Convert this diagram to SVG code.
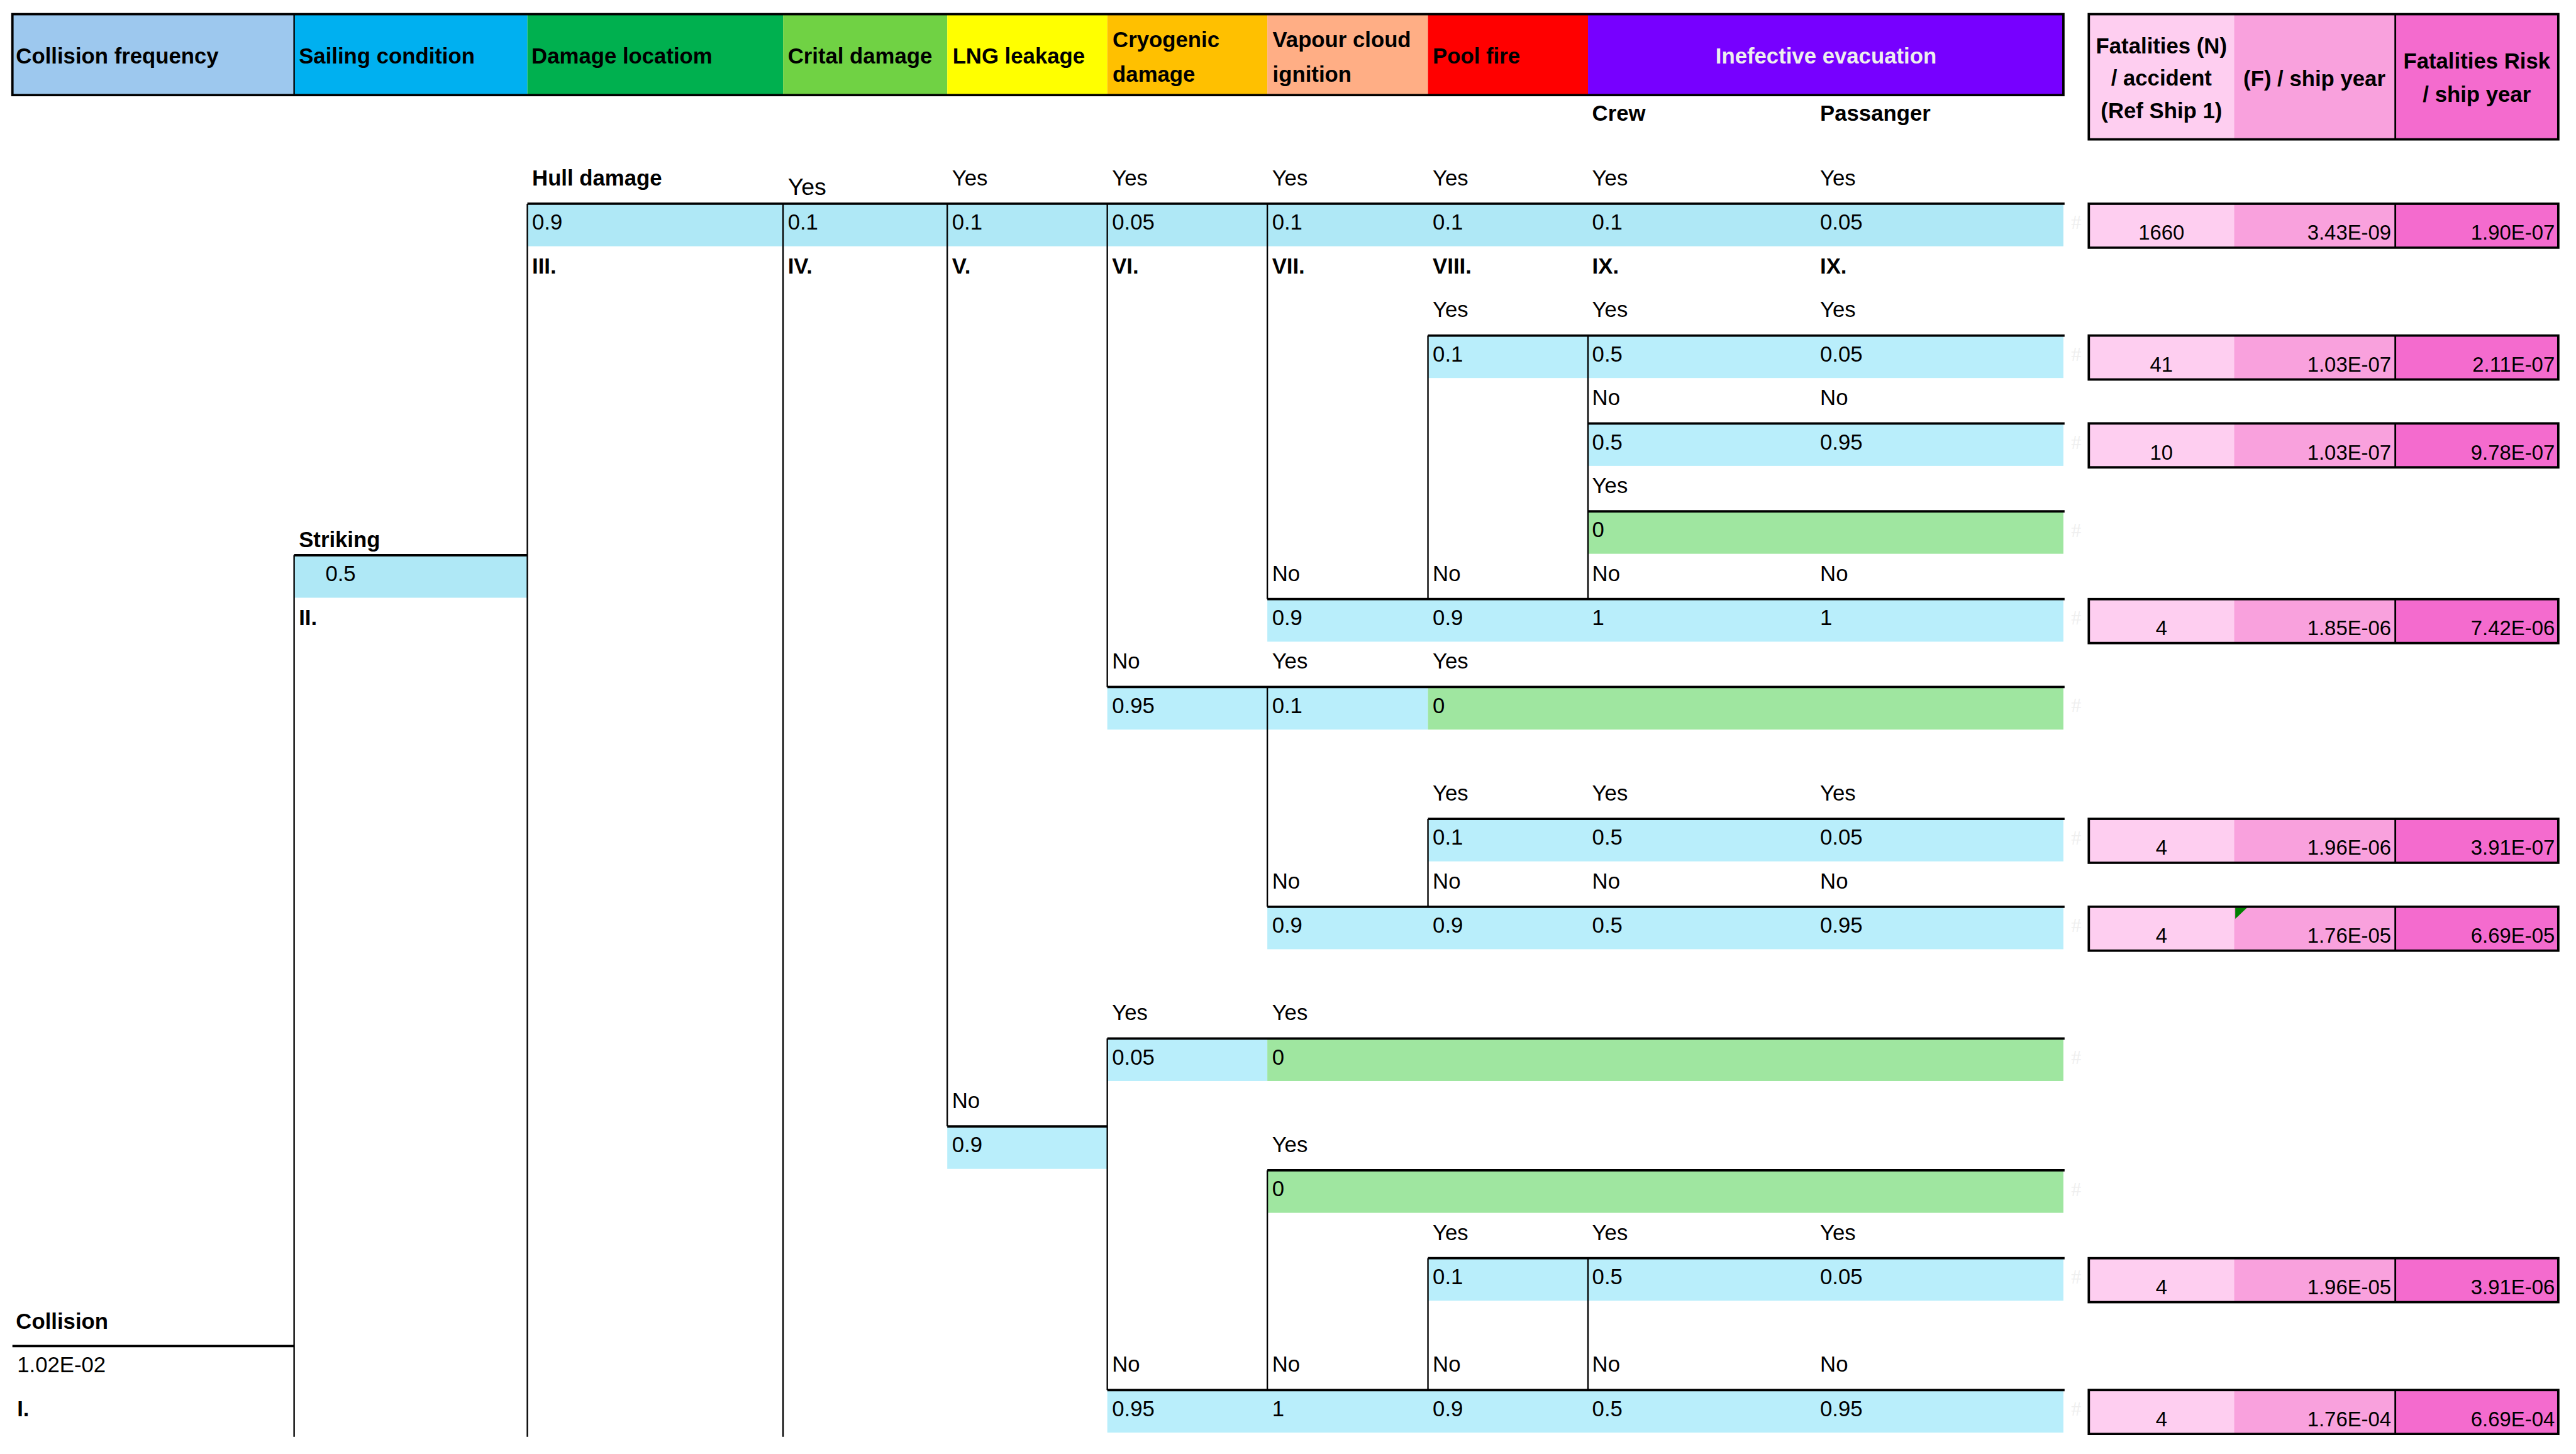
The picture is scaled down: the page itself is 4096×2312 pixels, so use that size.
<svg xmlns="http://www.w3.org/2000/svg" width="4096" height="2312" viewBox="0 0 4096 2312">
<style>
text{font-family:"Liberation Sans",Arial,sans-serif;font-size:37px;fill:#000}
.b{font-weight:bold}
.n{font-size:35px}
.w{fill:#EEEEEE}
.hash{font-family:"Liberation Serif",serif;font-size:34px;fill:#EFEFEF}
.bl{fill:#B9EEFB}
.bl1{fill:#AFE8F6}
.gr{fill:#9FE6A0}
.h{stroke:#000;stroke-width:4;fill:none}
.v{stroke:#000;stroke-width:2.5;fill:none}
.p1{fill:#FECEF0}.p2{fill:#F9A1DD}.p3{fill:#F46BCE}
</style>
<rect width="4096" height="2312" fill="#fff"/>
<g transform="scale(0.93902)">
<g id="header">
<rect x="21" y="24" width="477" height="137" fill="#9DC8EE"/>
<rect x="498" y="24" width="395" height="137" fill="#00B0F0"/>
<rect x="893" y="24" width="433" height="137" fill="#00B04F"/>
<rect x="1326" y="24" width="278" height="137" fill="#70D244"/>
<rect x="1604" y="24" width="271" height="137" fill="#FFFF00"/>
<rect x="1875" y="24" width="271" height="137" fill="#FFC000"/>
<rect x="2146" y="24" width="272" height="137" fill="#FFAE85"/>
<rect x="2418" y="24" width="271" height="137" fill="#FF0000"/>
<rect x="2689" y="24" width="805" height="137" fill="#7700FF"/>
<line class="v" x1="498" y1="24" x2="498" y2="161"/>
<rect class="h" x="21" y="24" width="3473" height="137"/>
<text class="b" x="27" y="108">Collision frequency</text>
<text class="b" x="506" y="108">Sailing condition</text>
<text class="b" x="900" y="108">Damage locatiom</text>
<text class="b" x="1334" y="108">Crital damage</text>
<text class="b" x="1613" y="108">LNG leakage</text>
<text class="b" x="1884" y="80">Cryogenic</text>
<text class="b" x="1884" y="138">damage</text>
<text class="b" x="2155" y="80">Vapour cloud</text>
<text class="b" x="2155" y="138">ignition</text>
<text class="b" x="2426" y="108">Pool fire</text>
<text class="b w" x="3092" y="108" text-anchor="middle">Inefective evacuation</text>
<text class="b" x="2696" y="205">Crew</text>
<text class="b" x="3082" y="205">Passanger</text>
</g>
<g id="result-header">
<rect class="p1" x="3537" y="24" width="246" height="212"/>
<rect class="p2" x="3783" y="24" width="273" height="212"/>
<rect class="p3" x="4056" y="24" width="276" height="212"/>
<line class="v" x1="4056" y1="24" x2="4056" y2="236" style="stroke-width:3"/>
<rect class="h" x="3537" y="24" width="795" height="212"/>
<text class="b" x="3660" y="90" text-anchor="middle">Fatalities (N)</text>
<text class="b" x="3660" y="145" text-anchor="middle">/ accident</text>
<text class="b" x="3660" y="200" text-anchor="middle">(Ref Ship 1)</text>
<text class="b" x="3919" y="146" text-anchor="middle">(F) / ship year</text>
<text class="b" x="4194" y="116" text-anchor="middle">Fatalities Risk</text>
<text class="b" x="4194" y="173" text-anchor="middle">/ ship year</text>
</g>

<g id="fills">
<rect class="bl1" x="893" y="345" width="2601" height="72"/>
<rect class="bl" x="2418" y="568.2" width="1076" height="72"/>
<rect class="bl" x="2689" y="717" width="805" height="72"/>
<rect class="gr" x="2689" y="865.8" width="805" height="72"/>
<rect class="bl1" x="498" y="940.2" width="395" height="72"/>
<rect class="bl" x="2146" y="1014.6" width="1348" height="72"/>
<rect class="bl" x="1875" y="1163.4" width="543" height="72"/>
<rect class="gr" x="2418" y="1163.4" width="1076" height="72"/>
<rect class="bl" x="2418" y="1386.6" width="1076" height="72"/>
<rect class="bl" x="2146" y="1535.4" width="1348" height="72"/>
<rect class="bl" x="1875" y="1758.6" width="271" height="72"/>
<rect class="gr" x="2146" y="1758.6" width="1348" height="72"/>
<rect class="bl" x="1604" y="1907.4" width="271" height="72"/>
<rect class="gr" x="2146" y="1981.8" width="1348" height="72"/>
<rect class="bl" x="2418" y="2130.6" width="1076" height="72"/>
<rect class="bl" x="1875" y="2353.8" width="1619" height="72"/>
</g>

<g id="connectors">
<line class="v" x1="498" y1="940.2" x2="498" y2="2433"/>
<line class="v" x1="893" y1="345" x2="893" y2="2433"/>
<line class="v" x1="1326" y1="345" x2="1326" y2="2433"/>
<line class="v" x1="1604" y1="345" x2="1604" y2="1907.4"/>
<line class="v" x1="1875" y1="345" x2="1875" y2="1163.4"/>
<line class="v" x1="1875" y1="1758.6" x2="1875" y2="2353.8"/>
<line class="v" x1="2146" y1="345" x2="2146" y2="1014.6"/>
<line class="v" x1="2146" y1="1163.4" x2="2146" y2="1535.4"/>
<line class="v" x1="2146" y1="1981.8" x2="2146" y2="2353.8"/>
<line class="v" x1="2418" y1="568.2" x2="2418" y2="1014.6"/>
<line class="v" x1="2418" y1="1386.6" x2="2418" y2="1535.4"/>
<line class="v" x1="2418" y1="2130.6" x2="2418" y2="2353.8"/>
<line class="v" x1="2689" y1="568.2" x2="2689" y2="1014.6"/>
<line class="v" x1="2689" y1="2130.6" x2="2689" y2="2353.8"/>
<line class="h" x1="893" y1="345" x2="3496" y2="345"/>
<line class="h" x1="2418" y1="568.2" x2="3496" y2="568.2"/>
<line class="h" x1="2689" y1="717" x2="3496" y2="717"/>
<line class="h" x1="2689" y1="865.8" x2="3496" y2="865.8"/>
<line class="h" x1="498" y1="940.2" x2="893" y2="940.2"/>
<line class="h" x1="2146" y1="1014.6" x2="3496" y2="1014.6"/>
<line class="h" x1="1875" y1="1163.4" x2="3496" y2="1163.4"/>
<line class="h" x1="2418" y1="1386.6" x2="3496" y2="1386.6"/>
<line class="h" x1="2146" y1="1535.4" x2="3496" y2="1535.4"/>
<line class="h" x1="1875" y1="1758.6" x2="3496" y2="1758.6"/>
<line class="h" x1="1604" y1="1907.4" x2="1875" y2="1907.4"/>
<line class="h" x1="2146" y1="1981.8" x2="3496" y2="1981.8"/>
<line class="h" x1="2418" y1="2130.6" x2="3496" y2="2130.6"/>
<line class="h" x1="21" y1="2279.4" x2="498" y2="2279.4"/>
<line class="h" x1="1875" y1="2353.8" x2="3496" y2="2353.8"/>
</g>

<g id="node-I">
<text class="b" x="27" y="2250">Collision</text>
<text x="29" y="2323.4">1.02E-02</text>
<text class="b" x="29" y="2397.8">I.</text>
</g>
<g id="node-II">
<text class="b" x="506" y="926">Striking</text>
<text x="551" y="984.2">0.5</text>
<text class="b" x="506" y="1058.6">II.</text>
</g>
<g id="branch-k0">
<text class="b" x="901" y="314">Hull damage</text>
<text x="1334" y="330" style="font-size:40px">Yes</text>
<text x="1612" y="314">Yes</text>
<text x="1883" y="314">Yes</text>
<text x="2154" y="314">Yes</text>
<text x="2426" y="314">Yes</text>
<text x="2696" y="314">Yes</text>
<text x="3082" y="314">Yes</text>
<text x="901" y="389">0.9</text>
<text x="1334" y="389">0.1</text>
<text x="1612" y="389">0.1</text>
<text x="1883" y="389">0.05</text>
<text x="2154" y="389">0.1</text>
<text x="2426" y="389">0.1</text>
<text x="2696" y="389">0.1</text>
<text x="3082" y="389">0.05</text>
<text class="b" x="901" y="463.4">III.</text>
<text class="b" x="1334" y="463.4">IV.</text>
<text class="b" x="1612" y="463.4">V.</text>
<text class="b" x="1883" y="463.4">VI.</text>
<text class="b" x="2154" y="463.4">VII.</text>
<text class="b" x="2426" y="463.4">VIII.</text>
<text class="b" x="2696" y="463.4">IX.</text>
<text class="b" x="3082" y="463.4">IX.</text>
</g>
<g id="branch-k3">
<text x="2426" y="537.2">Yes</text>
<text x="2696" y="537.2">Yes</text>
<text x="3082" y="537.2">Yes</text>
<text x="2426" y="612.2">0.1</text>
<text x="2696" y="612.2">0.5</text>
<text x="3082" y="612.2">0.05</text>
</g>
<g id="branch-k5">
<text x="2696" y="686">No</text>
<text x="3082" y="686">No</text>
<text x="2696" y="761">0.5</text>
<text x="3082" y="761">0.95</text>
</g>
<g id="branch-k7">
<text x="2696" y="834.8">Yes</text>
<text x="2696" y="909.8">0</text>
</g>
<g id="branch-k9">
<text x="2154" y="983.6">No</text>
<text x="2426" y="983.6">No</text>
<text x="2696" y="983.6">No</text>
<text x="3082" y="983.6">No</text>
<text x="2154" y="1058.6">0.9</text>
<text x="2426" y="1058.6">0.9</text>
<text x="2696" y="1058.6">1</text>
<text x="3082" y="1058.6">1</text>
</g>
<g id="branch-k11">
<text x="1883" y="1132.4">No</text>
<text x="2154" y="1132.4">Yes</text>
<text x="2426" y="1132.4">Yes</text>
<text x="1883" y="1207.4">0.95</text>
<text x="2154" y="1207.4">0.1</text>
<text x="2426" y="1207.4">0</text>
</g>
<g id="branch-k14">
<text x="2426" y="1355.6">Yes</text>
<text x="2696" y="1355.6">Yes</text>
<text x="3082" y="1355.6">Yes</text>
<text x="2426" y="1430.6">0.1</text>
<text x="2696" y="1430.6">0.5</text>
<text x="3082" y="1430.6">0.05</text>
</g>
<g id="branch-k16">
<text x="2154" y="1504.4">No</text>
<text x="2426" y="1504.4">No</text>
<text x="2696" y="1504.4">No</text>
<text x="3082" y="1504.4">No</text>
<text x="2154" y="1579.4">0.9</text>
<text x="2426" y="1579.4">0.9</text>
<text x="2696" y="1579.4">0.5</text>
<text x="3082" y="1579.4">0.95</text>
</g>
<g id="branch-k19">
<text x="1883" y="1727.6">Yes</text>
<text x="2154" y="1727.6">Yes</text>
<text x="1883" y="1802.6">0.05</text>
<text x="2154" y="1802.6">0</text>
</g>
<g id="branch-k21">
<text x="1612" y="1876.4">No</text>
<text x="1612" y="1951.4">0.9</text>
</g>
<g id="branch-k22">
<text x="2154" y="1950.8">Yes</text>
<text x="2154" y="2025.8">0</text>
</g>
<g id="branch-k24">
<text x="2426" y="2099.6">Yes</text>
<text x="2696" y="2099.6">Yes</text>
<text x="3082" y="2099.6">Yes</text>
<text x="2426" y="2174.6">0.1</text>
<text x="2696" y="2174.6">0.5</text>
<text x="3082" y="2174.6">0.05</text>
</g>
<g id="branch-k27">
<text x="1883" y="2322.8">No</text>
<text x="2154" y="2322.8">No</text>
<text x="2426" y="2322.8">No</text>
<text x="2696" y="2322.8">No</text>
<text x="3082" y="2322.8">No</text>
<text x="1883" y="2397.8">0.95</text>
<text x="2154" y="2397.8">1</text>
<text x="2426" y="2397.8">0.9</text>
<text x="2696" y="2397.8">0.5</text>
<text x="3082" y="2397.8">0.95</text>
</g>

<g id="hashes">
<text class="hash" x="3507" y="388">#</text>
<text class="hash" x="3507" y="611">#</text>
<text class="hash" x="3507" y="760">#</text>
<text class="hash" x="3507" y="909">#</text>
<text class="hash" x="3507" y="1058">#</text>
<text class="hash" x="3507" y="1206">#</text>
<text class="hash" x="3507" y="1430">#</text>
<text class="hash" x="3507" y="1578">#</text>
<text class="hash" x="3507" y="1802">#</text>
<text class="hash" x="3507" y="2025">#</text>
<text class="hash" x="3507" y="2174">#</text>
<text class="hash" x="3507" y="2397">#</text>
</g>

<g id="result-1">
<rect class="p1" x="3537" y="345" width="246" height="74.4"/><rect class="p2" x="3783" y="345" width="273" height="74.4"/><rect class="p3" x="4056" y="345" width="276" height="74.4"/>
<line class="v" x1="4056" y1="345" x2="4056" y2="419.4" style="stroke-width:3"/><rect class="h" x="3537" y="345" width="795" height="74.4"/>
<text class="n" x="3660" y="406" text-anchor="middle">1660</text><text class="n" x="4049" y="406" text-anchor="end">3.43E-09</text><text class="n" x="4326" y="406" text-anchor="end">1.90E-07</text>
</g>
<g id="result-2">
<rect class="p1" x="3537" y="568.2" width="246" height="74.4"/><rect class="p2" x="3783" y="568.2" width="273" height="74.4"/><rect class="p3" x="4056" y="568.2" width="276" height="74.4"/>
<line class="v" x1="4056" y1="568.2" x2="4056" y2="642.6" style="stroke-width:3"/><rect class="h" x="3537" y="568.2" width="795" height="74.4"/>
<text class="n" x="3660" y="629.2" text-anchor="middle">41</text><text class="n" x="4049" y="629.2" text-anchor="end">1.03E-07</text><text class="n" x="4326" y="629.2" text-anchor="end">2.11E-07</text>
</g>
<g id="result-3">
<rect class="p1" x="3537" y="717" width="246" height="74.4"/><rect class="p2" x="3783" y="717" width="273" height="74.4"/><rect class="p3" x="4056" y="717" width="276" height="74.4"/>
<line class="v" x1="4056" y1="717" x2="4056" y2="791.4" style="stroke-width:3"/><rect class="h" x="3537" y="717" width="795" height="74.4"/>
<text class="n" x="3660" y="778" text-anchor="middle">10</text><text class="n" x="4049" y="778" text-anchor="end">1.03E-07</text><text class="n" x="4326" y="778" text-anchor="end">9.78E-07</text>
</g>
<g id="result-4">
<rect class="p1" x="3537" y="1014.6" width="246" height="74.4"/><rect class="p2" x="3783" y="1014.6" width="273" height="74.4"/><rect class="p3" x="4056" y="1014.6" width="276" height="74.4"/>
<line class="v" x1="4056" y1="1014.6" x2="4056" y2="1089" style="stroke-width:3"/><rect class="h" x="3537" y="1014.6" width="795" height="74.4"/>
<text class="n" x="3660" y="1075.6" text-anchor="middle">4</text><text class="n" x="4049" y="1075.6" text-anchor="end">1.85E-06</text><text class="n" x="4326" y="1075.6" text-anchor="end">7.42E-06</text>
</g>
<g id="result-5">
<rect class="p1" x="3537" y="1386.6" width="246" height="74.4"/><rect class="p2" x="3783" y="1386.6" width="273" height="74.4"/><rect class="p3" x="4056" y="1386.6" width="276" height="74.4"/>
<line class="v" x1="4056" y1="1386.6" x2="4056" y2="1461" style="stroke-width:3"/><rect class="h" x="3537" y="1386.6" width="795" height="74.4"/>
<text class="n" x="3660" y="1447.6" text-anchor="middle">4</text><text class="n" x="4049" y="1447.6" text-anchor="end">1.96E-06</text><text class="n" x="4326" y="1447.6" text-anchor="end">3.91E-07</text>
</g>
<g id="result-6">
<rect class="p1" x="3537" y="1535.4" width="246" height="74.4"/><rect class="p2" x="3783" y="1535.4" width="273" height="74.4"/><rect class="p3" x="4056" y="1535.4" width="276" height="74.4"/>
<polygon points="3785,1537 3805,1537 3785,1556" fill="#008000"/>
<line class="v" x1="4056" y1="1535.4" x2="4056" y2="1609.8" style="stroke-width:3"/><rect class="h" x="3537" y="1535.4" width="795" height="74.4"/>
<text class="n" x="3660" y="1596.4" text-anchor="middle">4</text><text class="n" x="4049" y="1596.4" text-anchor="end">1.76E-05</text><text class="n" x="4326" y="1596.4" text-anchor="end">6.69E-05</text>
</g>
<g id="result-7">
<rect class="p1" x="3537" y="2130.6" width="246" height="74.4"/><rect class="p2" x="3783" y="2130.6" width="273" height="74.4"/><rect class="p3" x="4056" y="2130.6" width="276" height="74.4"/>
<line class="v" x1="4056" y1="2130.6" x2="4056" y2="2205" style="stroke-width:3"/><rect class="h" x="3537" y="2130.6" width="795" height="74.4"/>
<text class="n" x="3660" y="2191.6" text-anchor="middle">4</text><text class="n" x="4049" y="2191.6" text-anchor="end">1.96E-05</text><text class="n" x="4326" y="2191.6" text-anchor="end">3.91E-06</text>
</g>
<g id="result-8">
<rect class="p1" x="3537" y="2353.8" width="246" height="74.4"/><rect class="p2" x="3783" y="2353.8" width="273" height="74.4"/><rect class="p3" x="4056" y="2353.8" width="276" height="74.4"/>
<line class="v" x1="4056" y1="2353.8" x2="4056" y2="2428.2" style="stroke-width:3"/><rect class="h" x="3537" y="2353.8" width="795" height="74.4"/>
<text class="n" x="3660" y="2414.8" text-anchor="middle">4</text><text class="n" x="4049" y="2414.8" text-anchor="end">1.76E-04</text><text class="n" x="4326" y="2414.8" text-anchor="end">6.69E-04</text>
</g>
</g>
</svg>
